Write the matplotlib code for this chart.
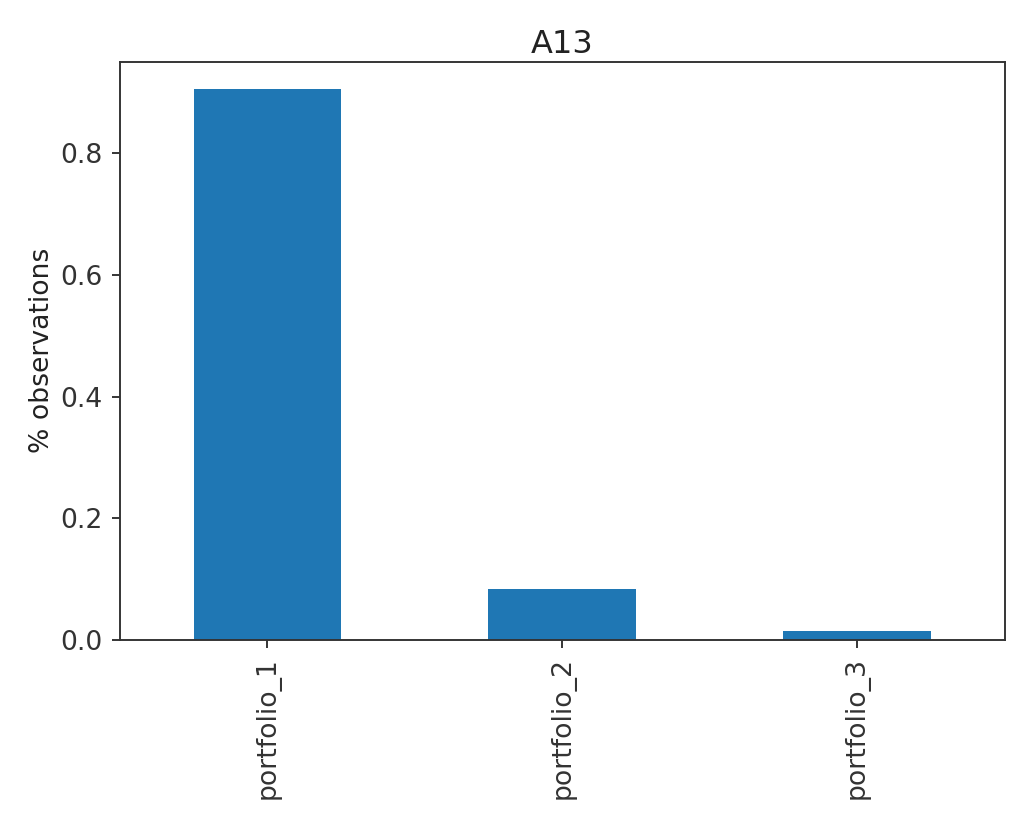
import numpy as np
import matplotlib
matplotlib.use("Agg")
import matplotlib.pyplot as plt

categories = ["portfolio_1", "portfolio_2", "portfolio_3"]
values = [0.905, 0.083, 0.014]

s = 1.73
fs = 1.92
plt.rcParams["font.size"] = 10 * fs
plt.rcParams["axes.linewidth"] = 0.8 * s
plt.rcParams["xtick.major.width"] = 0.8 * s
plt.rcParams["ytick.major.width"] = 0.8 * s
plt.rcParams["xtick.major.size"] = 3.5 * s
plt.rcParams["ytick.major.size"] = 3.5 * s
plt.rcParams["xtick.major.pad"] = 3.5 * s
plt.rcParams["ytick.major.pad"] = 3.5 * s
plt.rcParams["axes.edgecolor"] = "#333333"
plt.rcParams["xtick.color"] = "#333333"
plt.rcParams["ytick.color"] = "#333333"
plt.rcParams["text.color"] = "#222222"
plt.rcParams["axes.labelcolor"] = "#222222"

fig = plt.figure(figsize=(10.24, 8.13), dpi=100)
ax = fig.add_axes([0.117, 0.213, 0.864, 0.711])

x = np.arange(len(categories))
ax.bar(x, values, width=0.5, color="#1f77b4")
ax.set_xlim(-0.5, len(categories) - 0.5)
ax.set_xticks(x)
ax.set_xticklabels(categories, rotation=90)
ax.set_yticks([0.0, 0.2, 0.4, 0.6, 0.8])
ax.set_ylabel("% observations")
ax.set_title("A13", fontsize=12 * fs)

fig.savefig("out.png", dpi=100)
